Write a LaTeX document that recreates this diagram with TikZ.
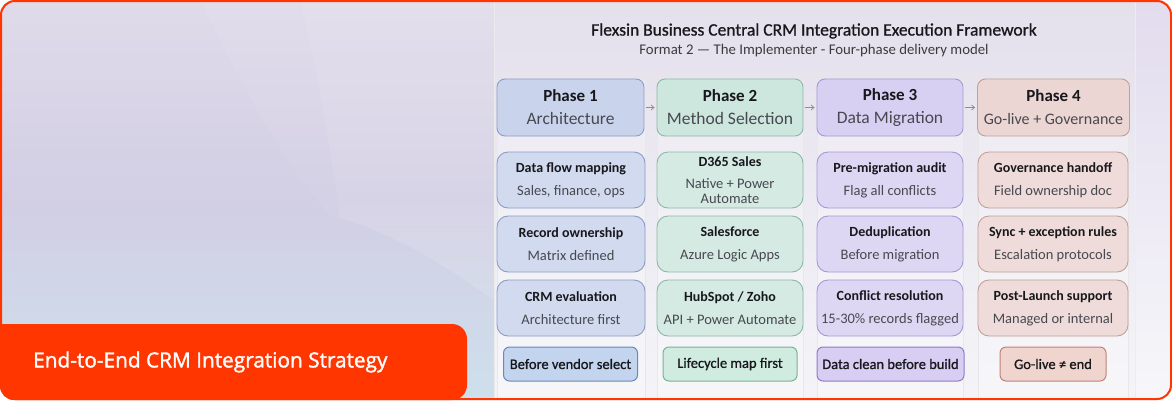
\documentclass[tikz,border=0pt]{standalone}
\usepackage{fontspec}
\setmainfont{Carlito}
\newfontfamily\labelfont[FakeBold=1.6]{Open Sans}
\newfontfamily\semifont[FakeBold=0.9]{Carlito}
\usetikzlibrary{arrows.meta}
\definecolor{orng}{RGB}{255,54,0}
\definecolor{bgTop}{RGB}{224,219,234}
\definecolor{bgMid}{RGB}{210,206,228}
\definecolor{bgBot}{RGB}{206,224,236}
\definecolor{panTop}{RGB}{228,224,236}
\definecolor{panBot}{RGB}{244,244,248}
\definecolor{aFill}{RGB}{201,212,236}\definecolor{aDraw}{RGB}{140,156,196}
\definecolor{bFill}{RGB}{205,230,222}\definecolor{bDraw}{RGB}{140,184,166}
\definecolor{cFill}{RGB}{216,208,242}\definecolor{cDraw}{RGB}{166,152,212}
\definecolor{dFill}{RGB}{236,214,212}\definecolor{dDraw}{RGB}{196,158,152}
\definecolor{aTag}{RGB}{194,212,238}\definecolor{aTagD}{RGB}{104,138,184}
\definecolor{bTag}{RGB}{208,236,224}\definecolor{bTagD}{RGB}{120,178,150}
\definecolor{cTag}{RGB}{216,206,244}\definecolor{cTagD}{RGB}{140,124,196}
\definecolor{dTag}{RGB}{240,212,206}\definecolor{dTagD}{RGB}{190,130,120}
\definecolor{hd}{RGB}{24,24,28}
\definecolor{sb}{RGB}{72,72,80}
\tikzset{
  phasebox/.style={draw, line width=0.9pt, rounded corners=8pt, minimum height=57pt, inner sep=0pt, align=center, text=hd, font=\fontsize{17}{23}\selectfont},
  itembox/.style={draw, line width=0.9pt, rounded corners=11pt, minimum height=56pt, inner sep=0pt, align=center, text=hd, font=\fontsize{14}{23}\selectfont},
  tagbox/.style={draw, line width=1pt, rounded corners=6pt, minimum height=34pt, inner sep=0pt, align=center, text=hd, font=\semifont\fontsize{14.5}{16}\selectfont},
  colstrip/.style={draw=black!9, line width=0.6pt, fill=white, fill opacity=0.25},
  conn/.style={-{Straight Barb[length=3pt,width=5pt]}, draw=black!45, line width=0.7pt, shorten <=2pt, shorten >=2pt},
}
\newcommand{\phtxt}[3][17.5]{\bfseries #2\\\mdseries\fontsize{#1}{23}\selectfont\color{sb}#3}
\newcommand{\itmtxt}[2]{\bfseries #1\\\mdseries\fontsize{14.5}{23}\selectfont\color{sb}#2}
\begin{document}
\begin{tikzpicture}[x=1pt,y=-1pt]
\useasboundingbox (0,0) rectangle (1172,400);
\begin{scope}
\clip[rounded corners=14pt] (0,0) rectangle (1172,400);
\shade[top color=bgTop, bottom color=bgBot, middle color=bgMid] (0,0) rectangle (1172,400);
\fill[white, opacity=0.06] (200,0) -- (494,0) -- (494,300) .. controls (450,270) and (400,235) .. (330,215) .. controls (280,160) and (240,80) .. (200,0) -- cycle;
\fill[white, opacity=0.08] (300,0) -- (494,0) -- (494,300) .. controls (450,270) and (400,235) .. (340,218) .. controls (330,150) and (320,80) .. (300,0) -- cycle;
\shade[top color=panTop, bottom color=panBot] (494,0) rectangle (1172,400);
\shade[top color={rgb,255:red,226;green,220;blue,238}, bottom color={rgb,255:red,247;green,247;blue,250}] (1135,0) rectangle (1172,400);
\draw[black!8, line width=0.6pt] (494,0) -- (494,400);
\draw[black!7, line width=0.6pt] (1135,0) -- (1135,400);
% column strips
\draw[colstrip] (497,80) rectangle (645,402);
\draw[colstrip] (657,80) rectangle (803,402);
\draw[colstrip] (817,80) rectangle (963,402);
\draw[colstrip] (978,80) rectangle (1128,402);
\end{scope}
% title
\node (title) at (814,31) {\semifont\fontsize{17.5}{20}\selectfont\color{hd}Flexsin Business Central CRM Integration Execution Framework};
\node (subtitle) at (814,51) {\fontsize{14.8}{16}\selectfont\color{hd!85}Format 2 — The Implementer - Four-phase delivery model};
% phases
\node[phasebox, fill=aFill, draw=aDraw, minimum width=147pt] (p1) at (570.5,107.5) {\phtxt{Phase 1}{Architecture}};
\node[phasebox, fill=bFill, draw=bDraw, minimum width=146pt] (p2) at (730,107.5) {\phtxt{Phase 2}{Method Selection}};
\node[phasebox, fill=cFill, draw=cDraw, minimum width=146pt] (p3) at (890,107.5) {\phtxt{Phase 3}{Data Migration}};
\node[phasebox, fill=dFill, draw=dDraw, minimum width=152pt] (p4) at (1053.5,107.5) {\phtxt[16]{Phase 4}{Go-live + Governance}};
\draw[conn] (p1) -- (p2);
\draw[conn] (p2) -- (p3);
\draw[conn] (p3) -- (p4);
% column 1
\node[itembox, fill=aFill!85!white, draw=aDraw, minimum width=148pt] (a1) at (571,180) {\itmtxt{Data flow mapping}{Sales, finance, ops}};
\node[itembox, fill=aFill!85!white, draw=aDraw, minimum width=148pt] (a2) at (571,244) {\itmtxt{Record ownership}{Matrix defined}};
\node[itembox, fill=aFill!85!white, draw=aDraw, minimum width=148pt] (a3) at (571,308) {\itmtxt{CRM evaluation}{Architecture first}};
\node[tagbox, fill=aTag, draw=aTagD, minimum width=134pt] (a4) at (570.5,364) {Before vendor select};
% column 2
\node[itembox, fill=bFill!85!white, draw=bDraw, minimum width=146pt, font=\fontsize{14}{22}\selectfont] (b1) at (730,180) {\bfseries D365 Sales\\\mdseries\fontsize{14.5}{15}\selectfont\color{sb}Native + Power\\[-7pt]\mdseries\fontsize{14.5}{15}\selectfont\color{sb}Automate};
\node[itembox, fill=bFill!85!white, draw=bDraw, minimum width=146pt] (b2) at (730,244) {\itmtxt{Salesforce}{Azure Logic Apps}};
\node[itembox, fill=bFill!85!white, draw=bDraw, minimum width=146pt] (b3) at (730,308) {\itmtxt{HubSpot / Zoho}{API + Power Automate}};
\node[tagbox, fill=bTag, draw=bTagD, minimum width=134pt] (b4) at (730,364) {Lifecycle map first};
% column 3
\node[itembox, fill=cFill!85!white, draw=cDraw, minimum width=146pt] (c1) at (890,180) {\itmtxt{Pre-migration audit}{Flag all conflicts}};
\node[itembox, fill=cFill!85!white, draw=cDraw, minimum width=146pt] (c2) at (890,244) {\itmtxt{Deduplication}{Before migration}};
\node[itembox, fill=cFill!85!white, draw=cDraw, minimum width=146pt] (c3) at (890,308) {\itmtxt{Conflict resolution}{15-30\% records flagged}};
\node[tagbox, fill=cTag, draw=cTagD, minimum width=147pt] (c4) at (890.5,364) {Data clean before build};
% column 4
\node[itembox, fill=dFill!85!white, draw=dDraw, minimum width=150pt] (d1) at (1053,180) {\itmtxt{Governance handoff}{Field ownership doc}};
\node[itembox, fill=dFill!85!white, draw=dDraw, minimum width=150pt] (d2) at (1053,244) {\itmtxt{Sync + exception rules}{Escalation protocols}};
\node[itembox, fill=dFill!85!white, draw=dDraw, minimum width=150pt] (d3) at (1053,308) {\itmtxt{Post-Launch support}{Managed or internal}};
\node[tagbox, fill=dTag, draw=dTagD, minimum width=106pt] (d4) at (1053,364) {Go-live ≠ end};
% orange label
\begin{scope}
\clip[rounded corners=14pt] (0,0) rectangle (1172,400);
\fill[orng, rounded corners=15pt] (-20,324) rectangle (467,400);
\end{scope}
\node[anchor=west, text=white, inner sep=0pt] (lbl) at (33,362) {\labelfont\fontsize{20.8}{22}\selectfont End-to-End CRM Integration Strategy};
% frame
\draw[orng, line width=2pt, rounded corners=14pt] (1,1) rectangle (1171,399);
\end{tikzpicture}
\end{document}
